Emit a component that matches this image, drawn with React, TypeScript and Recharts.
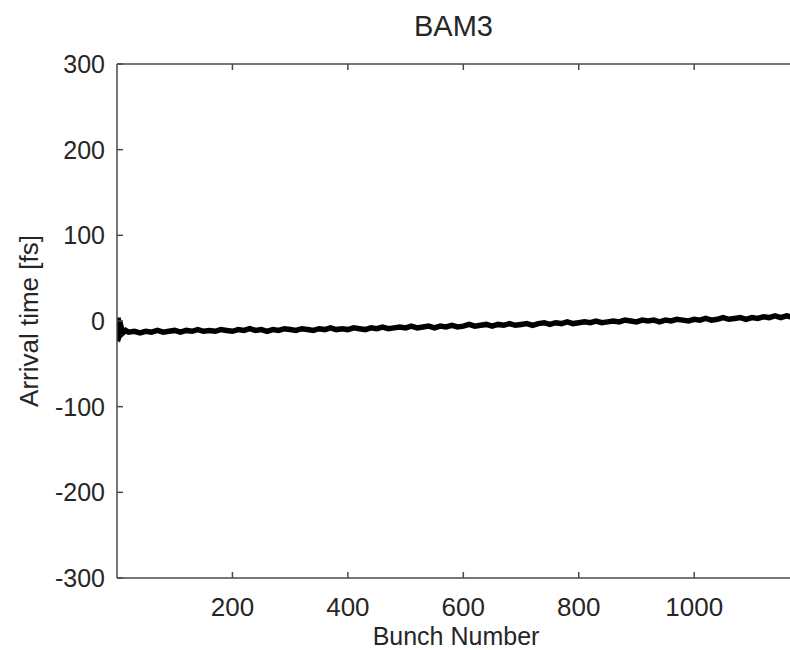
import { Line, LineChart, XAxis, YAxis } from "recharts";

// bunch index and arrival time [fs]
const bunch = [
  1, 2, 3, 4, 6, 8, 10, 15, 20, 30, 40, 50, 60, 70, 80, 90, 100, 110, 120, 130, 140, 150, 160, 170, 180, 190,
  200, 210, 220, 230, 240, 250, 260, 270, 280, 290, 300, 310, 320, 330, 340, 350, 360, 370, 380, 390, 400, 410,
  420, 430, 440, 450, 460, 470, 480, 490, 500, 510, 520, 530, 540, 550, 560, 570, 580, 590, 600, 610, 620, 630,
  640, 650, 660, 670, 680, 690, 700, 710, 720, 730, 740, 750, 760, 770, 780, 790, 800, 810, 820, 830, 840, 850,
  860, 870, 880, 890, 900, 910, 920, 930, 940, 950, 960, 970, 980, 990, 1000, 1010, 1020, 1030, 1040, 1050,
  1060, 1070, 1080, 1090, 1100, 1110, 1120, 1130, 1140, 1150, 1160, 1167,
];
const arrival = [
  -24, 4, -16, -6, -13, -9, -14, -11, -13, -12, -14, -12, -13, -11, -13, -12, -11, -13, -11, -12, -10, -12, -11,
  -12, -10, -11, -12, -10, -11, -9, -11, -10, -12, -10, -11, -9, -10, -11, -9, -10, -11, -9, -10, -8, -10, -9,
  -10, -8, -9, -10, -8, -9, -7, -9, -8, -7, -8, -6, -8, -7, -6, -8, -6, -7, -5, -7, -6, -4, -6, -5, -4, -6, -4,
  -5, -3, -5, -4, -3, -5, -3, -2, -4, -2, -3, -1, -3, -2, -1, -2, 0, -2, -1, 0, -1, 1, 0, -1, 1, 0, 1, -1, 1, 0,
  2, 1, 0, 2, 1, 3, 1, 2, 4, 2, 3, 4, 2, 4, 3, 5, 4, 6, 4, 6, 5,
];
const xTicks = [200, 400, 600, 800, 1000];
const yTicks = [-300, -200, -100, 0, 100, 200, 300];

const data = bunch.map((b, i) => ({ bunch: b, t: arrival[i] }));

const FONT = '"Liberation Sans", Arial, sans-serif';
const AXIS = "#4a4a4a";
const TEXT = "#262626";

function BottomTick(props: any) {
  const { x, y, payload } = props;
  return (
    <g>
      <line x1={x} y1={y} x2={x} y2={y - 6} stroke={AXIS} strokeWidth={1.5} />
      <text x={x} y={y + 38} textAnchor="middle" fontSize={26} fill={TEXT} fontFamily={FONT}>
        {payload.value}
      </text>
    </g>
  );
}

function TopTick(props: any) {
  const { x, y } = props;
  return <line x1={x} y1={y} x2={x} y2={y + 6} stroke={AXIS} strokeWidth={1.5} />;
}

function LeftTick(props: any) {
  const { x, y, payload } = props;
  return (
    <g>
      <line x1={x} y1={y} x2={x + 6} y2={y} stroke={AXIS} strokeWidth={1.5} />
      <text x={x - 12} y={y} dy="0.36em" textAnchor="end" fontSize={25} fill={TEXT} fontFamily={FONT}>
        {payload.value}
      </text>
    </g>
  );
}

function YLabel() {
  return (
    <text
      transform="translate(38,321) rotate(-90)"
      textAnchor="middle"
      fontSize={26}
      fill={TEXT}
      fontFamily={FONT}
    >
      Arrival time [fs]
    </text>
  );
}

function XLabel() {
  return (
    <text x={456} y={645} textAnchor="middle" fontSize={25} fill={TEXT} fontFamily={FONT}>
      Bunch Number
    </text>
  );
}

export default function App() {
  return (
    <div style={{ position: "absolute", left: 0, top: 0, width: 790, height: 650, background: "#fff" }}>
      <div
        style={{
          position: "absolute",
          left: 117,
          width: 673,
          top: 10,
          textAlign: "center",
          fontFamily: FONT,
          fontSize: 29,
          color: TEXT,
        }}
      >
        BAM3
      </div>
      <LineChart width={790} height={650} data={data} margin={{ top: 62, right: 0, bottom: 0, left: 0 }}>
        <XAxis
          dataKey="bunch"
          type="number"
          domain={[0, 1166]}
          ticks={xTicks}
          allowDataOverflow
          height={72}
          tickSize={0}
          tickMargin={0}
          tickLine={false}
          axisLine={{ stroke: AXIS, strokeWidth: 1.5 }}
          tick={<BottomTick />}
          label={<XLabel />}
        />
        <XAxis
          xAxisId="top"
          orientation="top"
          dataKey="bunch"
          type="number"
          domain={[0, 1166]}
          ticks={xTicks}
          allowDataOverflow
          height={2}
          tickSize={0}
          tickMargin={0}
          tickLine={false}
          axisLine={{ stroke: AXIS, strokeWidth: 1.5 }}
          tick={<TopTick />}
        />
        <YAxis
          type="number"
          domain={[-300, 300]}
          ticks={yTicks}
          width={117}
          tickSize={0}
          tickMargin={0}
          tickLine={false}
          axisLine={{ stroke: AXIS, strokeWidth: 1.5 }}
          tick={<LeftTick />}
          label={<YLabel />}
        />
        <Line
          type="linear"
          dataKey="t"
          stroke="#000"
          strokeWidth={5.5}
          dot={false}
          isAnimationActive={false}
        />
      </LineChart>
    </div>
  );
}
